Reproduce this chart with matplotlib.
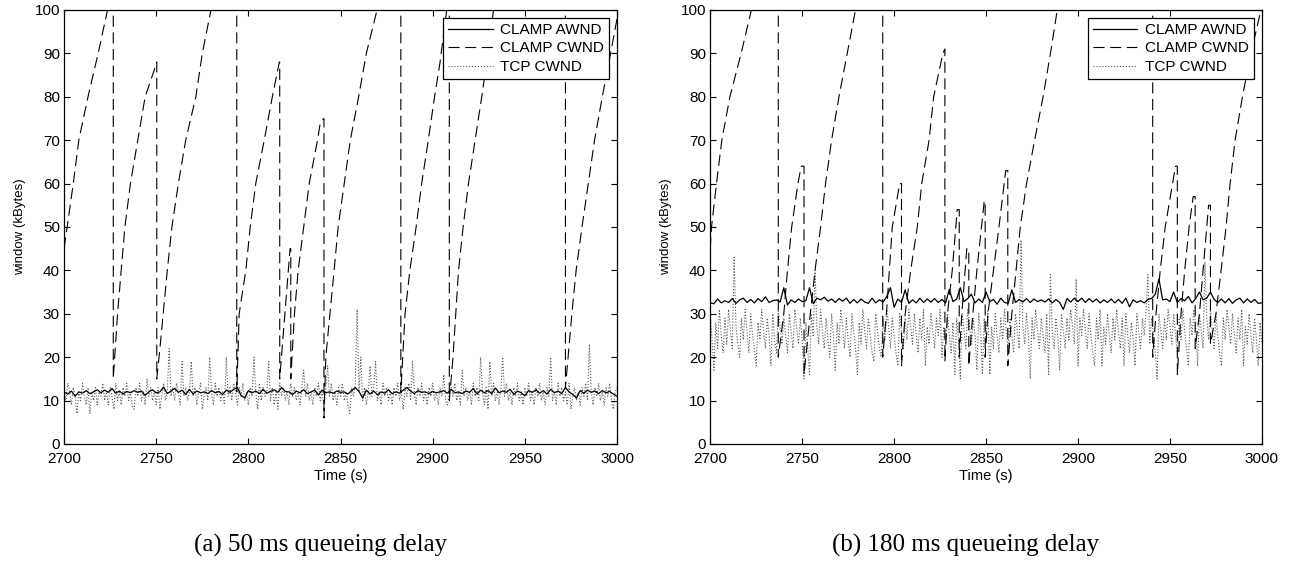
import numpy as np
import matplotlib
matplotlib.use("Agg")
import matplotlib.pyplot as plt

# ---- data ----
t_awnd = np.arange(2700, 3001, 2)
t_tcp = np.arange(2700, 3001, 1)

awnd_a = [12.0, 11.5, 12.2, 11.0, 12.0, 11.7, 12.3, 11.6, 12.0, 12.5,
          11.8, 12.4, 11.9, 12.8, 11.7, 12.2, 11.5, 12.1, 11.8, 12.3,
          11.9, 12.2, 11.2, 12.0, 12.5, 11.8, 12.0, 13.1, 11.6, 12.2,
          12.8, 11.9, 12.4, 11.4, 12.6, 11.5, 12.2, 11.8, 12.0, 11.6,
          12.3, 11.8, 12.1, 11.4, 12.4, 11.9, 12.6, 13.0, 11.2, 10.6,
          12.3, 11.8, 12.2, 11.6, 12.6, 11.7, 12.1, 12.5, 11.9, 13.0,
          12.1, 12.0, 11.4, 12.2, 11.8, 12.5, 11.6, 12.0, 12.4, 11.3,
          12.4, 11.8, 12.0, 11.7, 12.2, 11.9, 12.0, 11.5, 12.3, 13.0,
          12.1, 10.6, 12.4, 11.5, 12.2, 11.3, 12.0, 11.7, 12.5, 11.6,
          12.0, 11.7, 12.4, 13.0, 12.2, 11.6, 12.3, 11.9, 12.0, 11.6,
          12.1, 11.8, 12.0, 12.3, 11.7, 12.6, 11.8, 12.0, 11.6, 12.2,
          11.9, 12.8, 11.5, 12.4, 11.8, 12.3, 11.6, 12.9, 11.8, 12.2,
          11.9, 12.6, 11.4, 12.2, 11.8, 11.1, 12.3, 11.9, 12.5, 11.7,
          12.3, 11.5, 12.6, 11.8, 12.2, 11.6, 13.0, 12.0, 11.4, 10.6,
          12.3, 11.7, 12.4, 11.9, 12.2, 11.6, 12.3, 11.8, 12.1, 11.5,
          11.0]

awnd_b = [32.5, 32.3, 33.4, 32.5, 33.0, 32.6, 33.5, 32.4, 33.2, 33.6,
          32.6, 33.3, 32.5, 33.5, 32.8, 33.9, 32.6, 33.0, 33.2, 32.7,
          36.0, 32.0, 33.2, 32.6, 33.4, 32.8, 33.0, 36.0, 32.3, 33.6,
          33.2, 33.8, 32.9, 33.4, 32.6, 33.5, 32.9, 33.6, 32.4, 33.3,
          32.5, 33.4, 32.7, 32.4, 33.6, 32.5, 33.2, 32.7, 34.0, 36.0,
          31.5, 33.4, 32.6, 35.5, 32.4, 33.2, 32.5, 33.6, 32.6, 33.4,
          32.7, 33.5, 32.6, 33.3, 32.5, 35.6, 32.8, 33.4, 36.0, 32.8,
          33.5, 34.5, 32.5, 33.4, 32.6, 35.0, 32.8, 33.3, 32.2, 33.6,
          32.6, 32.4, 35.5, 32.6, 33.3, 32.7, 33.5, 32.6, 33.4, 32.8,
          33.2, 32.7, 33.4, 32.5, 33.3, 32.6, 31.0, 33.5, 32.7, 33.6,
          32.8, 33.6, 32.6, 33.5, 32.7, 33.4, 32.5, 33.2, 32.6, 33.4,
          32.5, 33.3, 32.4, 33.6, 31.6, 33.2, 32.6, 33.0, 32.5, 33.3,
          33.5, 34.5, 38.0, 33.2, 33.4, 32.8, 35.0, 32.6, 33.5, 33.0,
          34.0, 32.5, 33.5, 35.0, 33.2, 33.6, 35.0, 33.3, 32.6, 33.4,
          32.5, 33.5, 32.4, 33.2, 33.6, 32.5, 33.4, 32.6, 33.3, 32.4,
          32.5]

tcp_a = [13, 10, 14, 12, 9, 13, 11, 7, 12, 10,
         14, 11, 9, 13, 7, 12, 10, 13, 9, 12,
         11, 14, 10, 12, 9, 13, 11, 8, 14, 10,
         12, 9, 13, 11, 14, 10, 12, 9, 8, 13,
         11, 14, 10, 12, 9, 15, 11, 13, 10, 12,
         9, 13, 8, 11, 14, 10, 12, 22, 11, 13,
         10, 14, 12, 9, 19, 11, 13, 10, 12, 19,
         11, 13, 9, 12, 14, 8, 11, 13, 10, 20,
         12, 9, 14, 11, 13, 10, 12, 9, 20, 11,
         13, 10, 14, 12, 9, 13, 11, 14, 10, 12,
         9, 13, 11, 20, 12, 8, 14, 10, 13, 11,
         12, 19, 10, 13, 9, 12, 8, 14, 11, 13,
         10, 12, 9, 14, 11, 13, 10, 12, 9, 13,
         17, 11, 14, 10, 12, 9, 13, 11, 14, 10,
         12, 9, 13, 18, 11, 14, 10, 12, 9, 13,
         11, 14, 10, 12, 9, 7, 13, 11, 14, 31,
         12, 20, 10, 13, 9, 12, 18, 11, 13, 19,
         10, 12, 9, 14, 11, 13, 10, 12, 9, 13,
         11, 14, 10, 12, 8, 13, 11, 14, 10, 19,
         12, 9, 13, 11, 14, 10, 12, 9, 13, 11,
         14, 10, 12, 9, 13, 11, 16, 10, 9, 12,
         13, 11, 14, 10, 12, 9, 17, 11, 13, 10,
         12, 9, 14, 11, 13, 10, 20, 12, 9, 13,
         8, 19, 11, 14, 10, 12, 9, 13, 20, 11,
         14, 10, 12, 9, 13, 11, 14, 10, 12, 9,
         13, 11, 14, 10, 12, 9, 13, 11, 14, 10,
         12, 9, 13, 11, 20, 10, 12, 9, 14, 11,
         13, 10, 12, 9, 14, 8, 11, 13, 10, 12,
         9, 13, 11, 14, 10, 23, 12, 9, 13, 11,
         14, 10, 12, 9, 13, 11, 14, 10, 8, 12,
         13]

tcp_b = [30, 24, 17, 28, 22, 31, 25, 21, 29, 23,
         31, 26, 22, 43, 27, 23, 20, 29, 24, 31,
         26, 21, 30, 25, 22, 18, 28, 24, 31, 26,
         22, 29, 25, 18, 30, 24, 21, 31, 27, 23,
         29, 25, 21, 30, 26, 22, 31, 27, 23, 29,
         24, 15, 28, 22, 16, 30, 25, 40, 27, 23,
         31, 26, 22, 29, 24, 20, 30, 25, 17, 28,
         23, 31, 27, 22, 29, 24, 20, 30, 26, 22,
         16, 28, 23, 31, 26, 22, 29, 25, 21, 19,
         30, 26, 22, 20, 29, 24, 31, 27, 22, 29,
         25, 21, 18, 30, 26, 22, 29, 24, 31, 27,
         23, 30, 25, 21, 29, 24, 31, 18, 27, 23,
         30, 26, 22, 29, 25, 31, 20, 27, 23, 30,
         25, 21, 28, 16, 29, 24, 15, 30, 26, 22,
         31, 27, 23, 29, 25, 17, 30, 26, 16, 29,
         24, 31, 16, 27, 22, 30, 25, 21, 29, 24,
         31, 26, 22, 29, 25, 21, 30, 26, 22, 47,
         27, 23, 30, 25, 15, 29, 24, 31, 26, 22,
         29, 25, 21, 30, 16, 39, 26, 22, 29, 25,
         17, 30, 26, 22, 29, 24, 31, 27, 23, 38,
         18, 29, 25, 31, 26, 22, 30, 25, 21, 18,
         29, 24, 31, 18, 27, 23, 30, 25, 21, 29,
         24, 31, 26, 22, 29, 18, 30, 25, 21, 28,
         24, 18, 30, 26, 22, 29, 25, 31, 39, 23,
         29, 25, 21, 15, 30, 26, 22, 29, 24, 31,
         27, 23, 30, 25, 21, 29, 24, 31, 26, 22,
         18, 29, 25, 31, 27, 18, 30, 26, 22, 42,
         29, 24, 31, 26, 22, 30, 25, 21, 18, 29,
         24, 31, 27, 23, 30, 25, 21, 29, 24, 31,
         18, 27, 23, 30, 25, 21, 29, 24, 18, 28,
         23]

# CLAMP CWND sawtooth (time, value); repeated times are the drops
cwnd_a_t = [2700, 2705, 2708, 2713, 2718.5, 2723.6, 2726.7,
            2726.7, 2729, 2733, 2736, 2740, 2744, 2749.6, 2750.3,
            2750.3, 2752, 2756, 2758.5, 2762, 2766, 2771.5, 2775, 2779.7, 2793.7,
            2793.7, 2795, 2798.6, 2801, 2804, 2808.6, 2813, 2816.8, 2817,
            2817, 2822.6, 2823,
            2823, 2825, 2827, 2830, 2833, 2837.5, 2839, 2841,
            2841, 2842, 2846.5, 2848.7, 2852, 2855.3, 2859.8, 2864, 2869.8, 2882.7,
            2882.7, 2885, 2887.6, 2891, 2894, 2897.6, 2901, 2904, 2907.6, 2909,
            2909, 2911, 2914, 2916.5, 2919.4, 2923, 2926.6, 2930, 2933, 2972,
            2972, 2975.5, 2977.8, 2981, 2984.4, 2987.8, 2992, 2996.5, 3000]
cwnd_a_v = [45, 60, 70, 80, 90, 100, 106,
            15, 30, 50, 60, 70, 80, 87, 88,
            15, 22, 40, 50, 60, 70, 80, 90, 100, 125,
            12, 30, 40, 50, 60, 70, 80, 88, 88,
            15, 45, 45,
            15, 30, 40, 50, 60, 70, 74, 75,
            6, 20, 40, 50, 60, 70, 80, 90, 100, 125,
            12, 30, 40, 50, 60, 70, 80, 88, 100, 103,
            10, 20, 40, 50, 60, 70, 80, 90, 100, 150,
            13, 30, 40, 50, 60, 70, 80, 90, 98]

cwnd_b_t = [2700, 2700.7, 2703.4, 2706.3, 2710.7, 2716.8, 2722.4, 2737,
            2737, 2740, 2742, 2744.3, 2747.7, 2749.5, 2751,
            2751, 2754.4, 2757, 2760, 2762.7, 2766, 2770, 2774.5, 2779, 2793.8,
            2793.8, 2795.8, 2797.4, 2799, 2803, 2804,
            2804, 2806, 2809, 2812.6, 2815, 2819, 2821.5, 2826.5, 2827.6,
            2827.6, 2829, 2831.6, 2834.3, 2835.4,
            2835.4, 2836.8, 2839.5, 2840.6,
            2840.6, 2842.8, 2845, 2849, 2849.5,
            2849.5, 2851, 2854, 2857, 2860.7, 2861.8,
            2861.8, 2864, 2866.3, 2868.6, 2872, 2876.4, 2881, 2885, 2888.7, 2940.6,
            2940.6, 2942.4, 2944.7, 2947.4, 2951.4, 2953, 2954,
            2954, 2956, 2958, 2960.4, 2962.6, 2963.7,
            2963.7, 2966, 2968, 2971, 2972,
            2972, 2975, 2977.8, 2980.5, 2982.7, 2985.4, 2989.4, 2994, 2999.5, 3000]
cwnd_b_v = [45, 50, 60, 70, 80, 90, 100, 135,
            20, 30, 40, 50, 60, 64, 64,
            16, 30, 40, 50, 60, 70, 80, 90, 100, 130,
            20, 30, 40, 50, 60, 60,
            18, 30, 40, 50, 60, 70, 80, 90, 91,
            19, 30, 40, 54, 54,
            20, 30, 45, 45,
            18, 30, 40, 56, 56,
            20, 30, 40, 50, 63, 63,
            18, 30, 40, 50, 60, 70, 80, 90, 100, 170,
            20, 30, 40, 50, 60, 64, 64,
            16, 30, 40, 50, 57, 57,
            22, 30, 40, 55, 55,
            23, 30, 40, 50, 60, 70, 80, 90, 100, 101]

captions = ["(a) 50 ms queueing delay", "(b) 180 ms queueing delay"]

plt.rcParams['font.family'] = ['Liberation Sans', 'DejaVu Sans']

fig = plt.figure(figsize=(12.89, 5.63), dpi=100)
ax_a = fig.add_axes([0.0497, 0.2114, 0.429, 0.771])
ax_b = fig.add_axes([0.551, 0.2114, 0.428, 0.771])

panels = [(ax_a, awnd_a, cwnd_a_t, cwnd_a_v, tcp_a),
          (ax_b, awnd_b, cwnd_b_t, cwnd_b_v, tcp_b)]

for ax, awnd, ct, cv, tcp in panels:
    ax.plot(t_awnd, awnd, color='black', lw=0.9, label='CLAMP AWND', zorder=3)
    ax.plot(ct, cv, color='black', lw=0.8, dashes=(10, 5), label='CLAMP CWND', zorder=2)
    ax.plot(t_tcp, tcp, color='0.35', lw=0.8, ls=':', label='TCP CWND', zorder=1)
    ax.set_xlim(2700, 3000)
    ax.set_ylim(0, 100)
    ax.set_xticks(np.arange(2700, 3001, 50))
    ax.set_yticks(np.arange(0, 101, 10))
    ax.tick_params(direction='in', top=True, right=True, length=4,
                   labelsize=11, width=0.8)
    ax.tick_params(axis='x', pad=6)
    ax.tick_params(axis='y', pad=3)
    for s in ax.spines.values():
        s.set_linewidth(0.9)
    ax.set_xlabel('Time (s)', fontsize=10.5, labelpad=2)
    ax.set_ylabel('window (kBytes)', fontsize=9.5, labelpad=6)
    leg = ax.legend(loc='upper right', fontsize=11, handlelength=2.9,
                    handletextpad=0.5, fancybox=False, framealpha=1,
                    edgecolor='black', borderaxespad=0.5,
                    labelspacing=0.3, borderpad=0.35)
    leg.get_frame().set_linewidth(0.9)

fig.text(0.249, 0.032, captions[0], ha='center', va='center',
         family='Liberation Serif', fontsize=18)
fig.text(0.749, 0.032, captions[1], ha='center', va='center',
         family='Liberation Serif', fontsize=18)

fig.savefig('out.png', dpi=100)
